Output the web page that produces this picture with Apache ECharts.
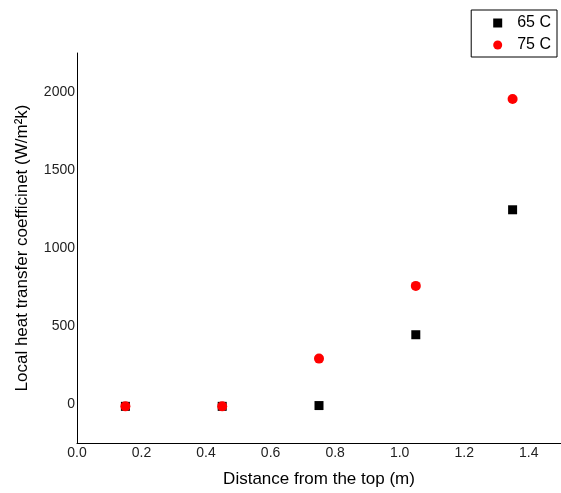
<!DOCTYPE html>
<html>
<head>
<meta charset="utf-8">
<script src="https://cdn.jsdelivr.net/npm/echarts@6/dist/echarts.min.js"></script>
<style>
  html, body { margin: 0; padding: 0; background: #fff; }
  #chart { width: 561px; height: 493px; }
</style>
</head>
<body>
<div id="chart"></div>
<script>
// distance from the top (m)
const distance = [0.15, 0.45, 0.75, 1.05, 1.35];
// local heat transfer coefficient
const h65 = [-15, -15, -10, 444, 1245];
const h75 = [-15, -15, 291, 757, 1955];

const chart = echarts.init(document.getElementById('chart'));
const font = 'Arial, "Liberation Sans", sans-serif';

const option = {
  animation: false,
  grid: { left: 77, right: 0, top: 53, bottom: 50 },
  legend: {
    orient: 'vertical',
    right: 4,
    top: 10,
    borderColor: '#000',
    borderWidth: 1,
    padding: [5, 6, 4, 22],
    itemWidth: 9,
    itemHeight: 9,
    itemGap: 6,
    textStyle: { fontFamily: font, fontSize: 16, color: '#000', padding: [0, 0, 0, 10] },
    data: [
      { name: '65 C', icon: 'rect' },
      { name: '75 C', icon: 'circle' }
    ]
  },
  xAxis: {
    type: 'value',
    min: 0,
    max: 1.5,
    interval: 0.2,
    name: 'Distance from the top (m)',
    nameLocation: 'middle',
    nameGap: 28,
    nameTextStyle: { fontFamily: font, fontSize: 17, color: '#000' },
    axisLine: { show: true, onZero: false, lineStyle: { color: '#000', width: 1 } },
    axisTick: { show: false },
    splitLine: { show: false },
    axisLabel: {
      margin: 3,
      fontFamily: font,
      fontSize: 14,
      color: '#222',
      showMaxLabel: false,
      formatter: v => v.toFixed(1)
    }
  },
  yAxis: {
    type: 'value',
    min: -250,
    max: 2250,
    interval: 250,
    name: 'Local heat transfer coefficinet (W/m²k)',
    nameLocation: 'middle',
    nameGap: 46,
    nameTextStyle: { fontFamily: font, fontSize: 17, color: '#000' },
    axisLine: { show: true, onZero: false, lineStyle: { color: '#000', width: 1 } },
    axisTick: { show: false },
    splitLine: { show: false },
    axisLabel: {
      margin: 2,
      fontFamily: font,
      fontSize: 14,
      color: '#222',
      formatter: v => (v % 500 === 0 && v <= 2000 ? String(v) : '')
    }
  },
  series: [
    {
      name: '65 C',
      type: 'scatter',
      symbol: 'rect',
      symbolSize: 9,
      itemStyle: { color: '#000', opacity: 1 },
      data: distance.map((x, i) => [x, h65[i]])
    },
    {
      name: '75 C',
      type: 'scatter',
      symbol: 'circle',
      symbolSize: 10,
      itemStyle: { color: '#ff0000', opacity: 1 },
      data: distance.map((x, i) => [x, h75[i]])
    }
  ]
};

chart.setOption(option);
</script>
</body>
</html>
